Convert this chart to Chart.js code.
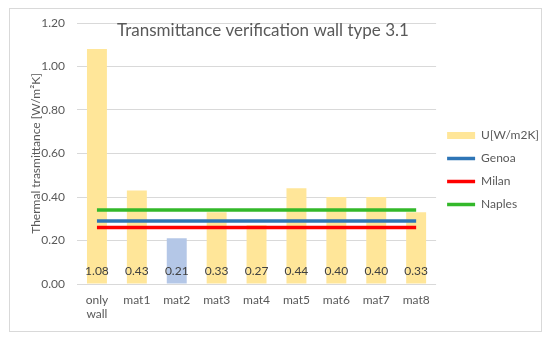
<!DOCTYPE html>
<html>
<head>
<meta charset="utf-8">
<script src="https://cdn.jsdelivr.net/npm/chart.js@4"></script>
<style>
  html, body { margin: 0; padding: 0; background: #fff; }
  #box { position: absolute; left: 9px; top: 8px; width: 531px; height: 322px; border: 1px solid #d9d9d9; }
  #chart { display: block; }
</style>
</head>
<body>
<div id="box"><canvas id="chart" width="531" height="322"></canvas></div>
<script>
// data
const categories = [['only', 'wall'], 'mat1', 'mat2', 'mat3', 'mat4', 'mat5', 'mat6', 'mat7', 'mat8'];
const uValues = [1.08, 0.43, 0.21, 0.33, 0.27, 0.44, 0.40, 0.40, 0.33];
const genoa = [0.29, 0.29, 0.29, 0.29, 0.29, 0.29, 0.29, 0.29, 0.29];
const milan = [0.26, 0.26, 0.26, 0.26, 0.26, 0.26, 0.26, 0.26, 0.26];
const naples = [0.34, 0.34, 0.34, 0.34, 0.34, 0.34, 0.34, 0.34, 0.34];
const yTicks = [0, 0.2, 0.4, 0.6, 0.8, 1.0, 1.2];

const yellow = '#ffe699';
const paleBlue = '#b4c7e7';
const textCol = '#595959';
const font = 'Lato';

const barLabels = {
  id: 'barLabels',
  afterDatasetsDraw(chart) {
    const ctx = chart.ctx;
    const meta = chart.getDatasetMeta(0);
    const y0 = chart.scales.y.getPixelForValue(0);
    ctx.save();
    ctx.font = '12px ' + font;
    ctx.fillStyle = '#404040';
    ctx.textAlign = 'center';
    ctx.textBaseline = 'middle';
    meta.data.forEach((bar, i) => {
      ctx.fillText(uValues[i].toFixed(2), bar.x, y0 - 13);
    });
    ctx.restore();
  }
};

const chartTitle = {
  id: 'chartTitle',
  afterDraw(chart) {
    const ctx = chart.ctx;
    ctx.save();
    ctx.font = '17px ' + font;
    ctx.fillStyle = textCol;
    ctx.textAlign = 'center';
    ctx.textBaseline = 'middle';
    ctx.fillText('Transmittance verification wall type 3.1', 253, 22);
    ctx.restore();
  }
};

new Chart(document.getElementById('chart'), {
  data: {
    labels: categories,
    datasets: [
      {
        type: 'bar',
        label: 'U[W/m2K]',
        data: uValues,
        backgroundColor: uValues.map((v, i) => i === 2 ? paleBlue : yellow),
        categoryPercentage: 1,
        barPercentage: 0.5,
        order: 1
      },
      { type: 'line', label: 'Genoa', data: genoa, borderColor: '#2e75b6', borderWidth: 3.5, pointRadius: 0, order: 0 },
      { type: 'line', label: 'Milan', data: milan, borderColor: '#ff0000', borderWidth: 3.5, pointRadius: 0, order: 0 },
      { type: 'line', label: 'Naples', data: naples, borderColor: '#33b82a', borderWidth: 3.5, pointRadius: 0, order: 0 }
    ]
  },
  options: {
    responsive: false,
    animation: false,
    layout: { padding: { top: 0, right: -8, bottom: 0, left: 0 } },
    plugins: {
      tooltip: { enabled: false },
      title: { display: false },
      legend: {
        position: 'right',
        labels: {
          font: { family: font, size: 12 },
          color: textCol,
          usePointStyle: true,
          pointStyleWidth: 28,
          boxHeight: 7,
          padding: 11,
          generateLabels: chart => chart.data.datasets.map((ds, i) => ({
            text: ds.label,
            datasetIndex: i,
            pointStyle: ds.type === 'line' ? 'line' : 'rect',
            fillStyle: ds.type === 'line' ? ds.borderColor : yellow,
            strokeStyle: ds.type === 'line' ? ds.borderColor : yellow,
            lineWidth: ds.type === 'line' ? 3.5 : 0,
            fontColor: textCol,
            hidden: false
          }))
        }
      }
    },
    scales: {
      x: {
        grid: { display: false },
        border: { display: false },
        ticks: { font: { family: font, size: 12 }, color: textCol, padding: 1, maxRotation: 0 },
        afterFit: s => { s.height = 47; }
      },
      y: {
        min: 0,
        max: 1.2,
        afterBuildTicks: s => { s.ticks = yTicks.map(v => ({ value: v })); },
        grid: { color: '#d9d9d9', drawTicks: false },
        border: { display: false },
        ticks: { font: { family: font, size: 12 }, color: textCol, padding: 12, callback: v => v.toFixed(2) },
        title: {
          display: true,
          text: 'Thermal trasmittance [W/m\u00b2K]',
          font: { family: font, size: 12 },
          color: textCol,
          padding: { top: 19, bottom: 0 }
        },
        afterFit: s => { s.width = 67; s.paddingTop = 14; }
      }
    }
  },
  plugins: [barLabels, chartTitle]
});
</script>
</body>
</html>
